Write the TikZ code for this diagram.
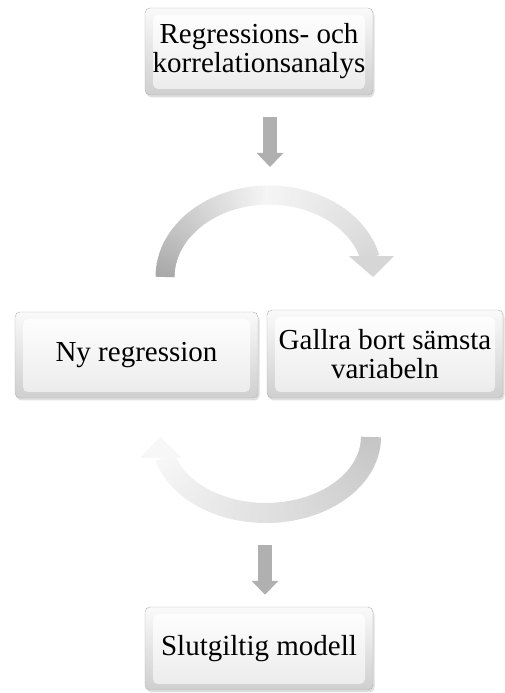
\documentclass[tikz,border=0pt]{standalone}
\usepackage{fontspec}
\setmainfont{Liberation Serif}
\usetikzlibrary{arrows.meta,shadows,calc}

\newcommand\boxfont{\fontsize{29}{29}\selectfont}

\tikzset{
  bevelbox/.style={rounded corners=5pt, draw=gray!60, top color=gray!4, bottom color=gray!38,
    drop shadow={opacity=0.25, shadow xshift=1.5pt, shadow yshift=-2.5pt},
    align=center, font=\boxfont, inner sep=2pt,
    path picture={
      \shade[top color=white, bottom color=gray!16]
        ([shift={(8pt,-7pt)}]path picture bounding box.north west) rectangle
        ([shift={(-8pt,6pt)}]path picture bounding box.south east);
    }},
  downarrow/.style={line width=14pt, gray!62, -{Triangle[length=14pt,width=26pt]}},
}

\begin{document}
\begin{tikzpicture}[x=1pt,y=1pt]
    \useasboundingbox (0,0) rectangle (505,693);

    % boxes
    \node[bevelbox, minimum width=228, minimum height=87] (start) at (259,641.5) {Regressions- och\\korrelationsanalys};
    \node[bevelbox, minimum width=243, minimum height=86] (newreg) at (136.5,338) {Ny regression};
    \node[bevelbox, minimum width=236, minimum height=88] (prune) at (385,339) {Gallra bort sämsta\\variabeln};
    \node[bevelbox, minimum width=228, minimum height=83] (final) at (259,44.5) {Slutgiltig modell};

    % centres and ends of the loop
    \coordinate (upc) at (269,416);
    \coordinate (lowc) at (266,256);
    \coordinate (looptop) at (270,503);
    \coordinate (loopbot) at (265,173);

    % straight arrows
    \draw[downarrow, shorten <=22pt, shorten >=23pt] (start.south -| looptop) -- (looptop);
    \draw[downarrow, shorten <=25pt, shorten >=12pt] (loopbot) -- (loopbot |- final.north);

    % upper arc, dark to light
    \foreach \a in {180,178,...,16} {
      \pgfmathsetmacro\c{\a>92 ? 8+(\a-92)*0.68 : 8+(92-\a)*0.3}
      \draw[line width=19pt, gray!\c] ($(upc)+(\a:104 and 82)$) arc[start angle=\a, end angle=\a-2.6, x radius=104, y radius=82];
    }
    \fill[gray!32] ($(upc)+(14:104 and 82)+(-21,1)$) -- ($(upc)+(14:104 and 82)+(24,1)$) -- (373,416) -- cycle;

    % lower arc, back to the left box
    \foreach \a in {360,358,...,198} {
      \pgfmathsetmacro\c{6+(\a-196)*0.24}
      \draw[line width=20pt, gray!\c] ($(lowc)+(\a:105 and 76)$) arc[start angle=\a, end angle=\a-2.6, x radius=105, y radius=76];
    }
    \fill[gray!6] (140,235) -- (182,235) -- (160,256) -- cycle;
  \end{tikzpicture}
\end{document}
